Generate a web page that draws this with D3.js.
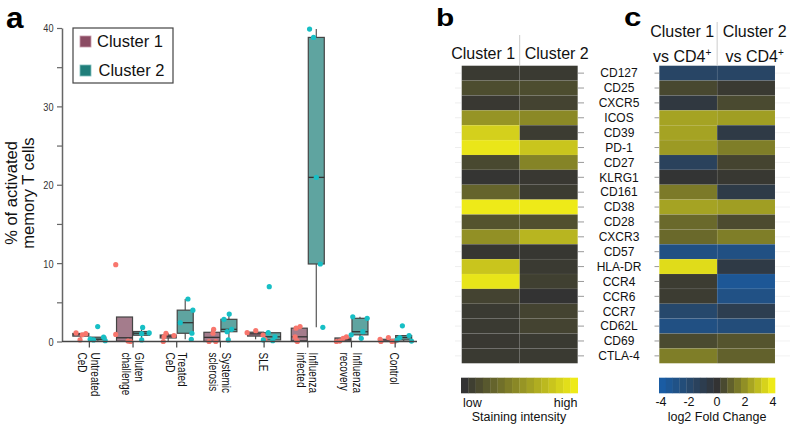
<!DOCTYPE html>
<html><head><meta charset="utf-8">
<script src="https://cdn.jsdelivr.net/npm/d3@7"></script>
<style>html,body{margin:0;padding:0;background:#fff;} svg{display:block;font-family:"Liberation Sans",Arial,sans-serif;}</style>
</head><body><svg id="chart" width="793" height="428"></svg>
<script>
// ---------- data ----------
const categories = [["Untreated","CeD"],["Gluten","challenge"],["Treated","CeD"],["Systemic","sclerosis"],["SLE"],["Influenza","infected"],["Influenza","recovery"],["Control"]];
const clusters = ["Cluster 1","Cluster 2"];
const cluster1Values = [
  [1.1,0.2,0.85,1.0],
  [9.8,0.9,0.05,0.0],
  [0.0,0.6,1.05,0.75],
  [1.55,1.05,0.0,0.0],
  [1.12,1.38,0.83,0.28],
  [1.7,1.9,0.6,0.1,0.0],
  [0.0,0.4,0.6,0.05],
  [0.28,0.0,0.5,0.0,0.05]];
const cluster1Jitter = [
  [-0.30,-0.05,0.09,0.31],
  [-0.55,-0.55,0.22,0.37],
  [-0.31,-0.26,-0.14,0.36],
  [0.11,0.07,-0.18,0.24],
  [-0.53,0.01,0.47,0.58],
  [-0.20,0.05,-0.26,-0.16,-0.12],
  [-0.41,0.01,0.22,-0.20],
  [-0.41,-0.36,0.11,0.33,0.53]];
const cluster2Values = [
  [0.3,0.2,1.9,0.55,0.1],
  [1.8,1.0,1.1,0.2],
  [5.42,4.0,2.4,1.05,0.28],
  [3.5,2.83,1.55,1.25,0.2],
  [7.0,1.12,0.2,0.1,0.6],
  [39.86,38.8,20.94,9.89,1.81],
  [3.16,1.25,0.4,2.96,0.85],
  [2.0,0.5,0.75,0.05,0.2]];
const cluster2Jitter = [
  [-0.48,-0.27,-0.01,0.36,0.46],
  [0.07,0.01,0.48,0.01],
  [0.17,0.48,-0.31,0.42,0.38],
  [0.02,-0.31,0.17,-0.11,-0.04],
  [-0.21,-0.27,-0.58,0.01,0.15],
  [-0.42,-0.17,0.0,0.25,0.41],
  [-0.45,0.18,0.08,0.45,-0.55],
  [-0.08,-0.24,0.34,0.49,-0.41]];
const yTickValues = [0,5,10,15,20,25,30,35,40];
const yTickLabels = ["0","","10","","20","","30","","40"];

const markers = ["CD127","CD25","CXCR5","ICOS","CD39","PD-1","CD27","KLRG1","CD161","CD38","CD28","CXCR3","CD57","HLA-DR","CCR4","CCR6","CCR7","CD62L","CD69","CTLA-4"];
const stainCluster1 = [0.04,0.14,0.03,0.53,0.86,0.98,0.12,0.01,0.27,1.0,0.18,0.51,0.02,0.80,0.97,0.09,0.04,0.04,0.03,0.04];
const stainCluster2 = [0.04,0.14,0.09,0.47,0.05,0.80,0.44,0.03,0.05,1.0,0.16,0.71,0.02,0.04,0.07,0.00,0.09,0.09,0.04,0.04];
const fcCluster1 = [-1.8,0.45,-0.45,2.44,2.44,2.25,-1.46,-0.05,1.56,2.44,1.18,1.18,-2.86,3.7,0.2,0.2,-2.04,-2.86,0.5,1.63];
const fcCluster2 = [-1.8,0.15,0.5,2.33,-0.68,1.63,0.38,0.1,-0.75,2.33,0.53,1.63,-2.86,-0.68,-3.54,-2.93,-1.04,-2.54,0.73,1.0];
const fcTicks = [-4,-2,0,2,4];

// ---------- drawing ----------
const svg = d3.select("#chart");
svg.append("rect").attr("width",793).attr("height",428).attr("fill","#fff");

// panel letters
svg.append("text").attr("transform","translate(6,27.5) scale(1.05,1)").attr("font-size",30).attr("font-weight","bold").text("a");
svg.append("text").attr("transform","translate(436,26) scale(1.3,1)").attr("font-size",23).attr("font-weight","bold").text("b");
svg.append("text").attr("transform","translate(624,26) scale(1.25,1)").attr("font-size",25).attr("font-weight","bold").text("c");

// ===== Panel a =====
const y = d3.scaleLinear().domain([0,40]).range([341.5,28]);
const x = d3.scaleBand().domain(d3.range(categories.length)).range([67.5,417]);
const sub = d3.scaleBand().domain(clusters).range([-16.5,16.5]).paddingInner(0.06);
const boxFill = {"Cluster 1":"#a47c8c","Cluster 2":"#5fa4a0"};
const ptFill = {"Cluster 1":"#f8766d","Cluster 2":"#17bfc5"};
const legFill = {"Cluster 1":"#8b4b63","Cluster 2":"#1f7e7a"};

// y axis
const ax = svg.append("g").attr("transform","translate(62,0)")
  .call(d3.axisLeft(y).tickValues(yTickValues).tickSize(5).tickSizeOuter(0).tickFormat((d,i)=>yTickLabels[i]));
ax.select(".domain").attr("stroke","#666").attr("stroke-width",1.5);
ax.selectAll(".tick line").attr("stroke","#666").attr("stroke-width",1.2);
ax.selectAll(".tick text").attr("x",0).attr("dy","0.34em").attr("font-size",11.5).attr("fill","#333")
  .attr("font-family","'Liberation Sans',Arial,sans-serif")
  .attr("transform","translate(-8.5,0) scale(0.8,1)");

// y title
const yt = svg.append("text").attr("transform","translate(17,193) rotate(-90)").attr("text-anchor","middle").attr("font-size",16.5).attr("fill","#111");
yt.append("tspan").attr("x",0).attr("y",0).text("% of activated");
yt.append("tspan").attr("x",0).attr("y",17).text("memory T cells");

// boxes + points
const allData = [];
categories.forEach((c,i)=>{
  [[cluster1Values,cluster1Jitter,"Cluster 1"],[cluster2Values,cluster2Jitter,"Cluster 2"]].forEach(([vals,jit,cl])=>{
    allData.push({i,cl,vals:vals[i],jit:jit[i]});
  });
});
const gBox = svg.append("g");
allData.forEach(d=>{
  const s = d.vals.slice().sort(d3.ascending);
  const q1 = d3.quantile(s,0.25), med = d3.quantile(s,0.5), q3 = d3.quantile(s,0.75);
  const iqr = q3-q1;
  const lo = d3.min(s.filter(v=>v>=q1-1.5*iqr)), hi = d3.max(s.filter(v=>v<=q3+1.5*iqr));
  const x0 = x(d.i)+x.bandwidth()/2+sub(d.cl);
  const cx = x0+sub.bandwidth()/2;
  gBox.append("line").attr("x1",cx).attr("x2",cx).attr("y1",y(hi)).attr("y2",y(q3)).attr("stroke","#555").attr("stroke-width",1.2);
  gBox.append("line").attr("x1",cx).attr("x2",cx).attr("y1",y(q1)).attr("y2",y(lo)).attr("stroke","#555").attr("stroke-width",1.2);
  gBox.append("rect").attr("x",x0).attr("width",sub.bandwidth()).attr("y",y(q3)).attr("height",Math.max(0.8,y(q1)-y(q3)))
    .attr("fill",boxFill[d.cl]).attr("stroke","#444").attr("stroke-width",1.2);
  gBox.append("line").attr("x1",x0).attr("x2",x0+sub.bandwidth()).attr("y1",y(med)).attr("y2",y(med)).attr("stroke","#333").attr("stroke-width",1.3);
});
const gPts = svg.append("g");
allData.forEach(d=>{
  const cx = x(d.i)+x.bandwidth()/2+sub(d.cl)+sub.bandwidth()/2;
  d.vals.forEach((v,k)=>{
    gPts.append("circle").attr("cx",cx+d.jit[k]*sub.bandwidth()).attr("cy",y(v)).attr("r",2.6).attr("fill",ptFill[d.cl]);
  });
});

// x axis
svg.append("line").attr("x1",62).attr("x2",417).attr("y1",y(0)).attr("y2",y(0)).attr("stroke","#444").attr("stroke-width",1.5);
categories.forEach((c,i)=>{
  const t = x(i)+x.bandwidth()/2;
  svg.append("line").attr("x1",t).attr("x2",t).attr("y1",y(0)).attr("y2",y(0)+6).attr("stroke","#444").attr("stroke-width",1.2);
  const off = c.length===1 ? -4.7 : 1.5;
  const tx = svg.append("text").attr("transform",`translate(${t+off},352.5) rotate(90) scale(0.78,1)`)
    .attr("font-size",12.8).attr("fill","#111");
  c.forEach((line,k)=>{
    tx.append("tspan").attr("x",0).attr("y",12.5*k).text(line);
  });
});

// legend
svg.append("rect").attr("x",73).attr("y",28).attr("width",100).attr("height",55).attr("fill","#fff").attr("stroke","#444").attr("stroke-width",1.2);
clusters.forEach((cl,k)=>{
  svg.append("rect").attr("x",80).attr("y",36+k*29).attr("width",11).attr("height",11).attr("fill",legFill[cl]).attr("stroke",k? "#7fbfbc":"#c79aaa").attr("stroke-width",0.8);
  svg.append("text").attr("x",97+k*1.5).attr("y",47+k*29).attr("font-size",16.5).attr("fill","#111").text(cl);
});

// ===== Heatmaps =====
const rowBand = d3.scaleBand().domain(markers).range([65.7,363.3]);
const stainColor = d3.scaleLinear().domain([0,1]).range(["#333333","#eeea18"]);
const fcColor = d3.scaleLinear().domain([-4,0,4]).range(["#1a5ca3","#333333","#eeea18"]);

function heat(xRange, v1, v2, colorFn){
  const cb = d3.scaleBand().domain(clusters).range(xRange);
  const g = svg.append("g");
  markers.forEach((m,r)=>{
    [v1,v2].forEach((arr,c)=>{
      g.append("rect").attr("x",cb(clusters[c])).attr("y",rowBand(m)).attr("width",cb.bandwidth()).attr("height",rowBand.bandwidth())
        .attr("fill",colorFn(arr[r])).attr("stroke","rgba(255,255,255,0.07)").attr("stroke-width",0.6);
    });
  });
  return cb;
}
const cbB = heat([461.7,577.7], stainCluster1, stainCluster2, stainColor);
const cbC = heat([659.3,775], fcCluster1, fcCluster2, fcColor);

// ticks
markers.forEach(m=>{
  const yy = rowBand(m)+rowBand.bandwidth()/2;
  svg.append("line").attr("x1",578).attr("x2",584).attr("y1",yy).attr("y2",yy).attr("stroke","#999").attr("stroke-width",1);
  svg.append("line").attr("x1",455).attr("x2",461).attr("y1",yy).attr("y2",yy).attr("stroke","#eee").attr("stroke-width",1);
  svg.append("line").attr("x1",654.5).attr("x2",659).attr("y1",yy).attr("y2",yy).attr("stroke","#999").attr("stroke-width",1);
  svg.append("line").attr("x1",775).attr("x2",790).attr("y1",yy).attr("y2",yy).attr("stroke","#f2f2f2").attr("stroke-width",1);
  svg.append("text").attr("x",619).attr("y",yy+4.3).attr("text-anchor","middle").attr("font-size",12).attr("fill","#111").text(m);
});

// headers b
const divB = cbB.range()[0]+cbB.bandwidth();
svg.append("line").attr("x1",divB).attr("x2",divB).attr("y1",35).attr("y2",65).attr("stroke","#ccc").attr("stroke-width",1);
svg.append("text").attr("x",divB-4.5).attr("y",59).attr("text-anchor","end").attr("font-size",16).attr("fill","#111").text(clusters[0]);
svg.append("text").attr("x",divB+5).attr("y",59).attr("text-anchor","start").attr("font-size",16).attr("fill","#111").text(clusters[1]);

// headers c
const divC = cbC.range()[0]+cbC.bandwidth();
svg.append("line").attr("x1",divC).attr("x2",divC).attr("y1",22).attr("y2",65).attr("stroke","#ccc").attr("stroke-width",1);
[[divC-35,clusters[0]],[divC+37.5,clusters[1]]].forEach(([cx,lab])=>{
  svg.append("text").attr("x",cx).attr("y",36.7).attr("text-anchor","middle").attr("font-size",16).attr("fill","#111").text(lab);
  const t = svg.append("text").attr("x",cx).attr("y",61.7).attr("text-anchor","middle").attr("font-size",16).attr("fill","#111");
  t.append("tspan").text("vs CD4");
  t.append("tspan").attr("font-size",10).attr("dy",-6).text("+");
});

// colorbar b
const nB = 16;
const cbx = d3.scaleBand().domain(d3.range(nB)).range([461,577.7]);
d3.range(nB).forEach(i=>{
  svg.append("rect").attr("x",cbx(i)).attr("y",377.7).attr("width",cbx.bandwidth()+0.3).attr("height",15.6).attr("fill",stainColor(i/(nB-1)));
});
svg.append("text").attr("x",463).attr("y",406.7).attr("font-size",12.5).attr("fill","#111").text("low");
svg.append("text").attr("x",577.5).attr("y",406.7).attr("text-anchor","end").attr("font-size",12.5).attr("fill","#111").text("high");
svg.append("text").attr("x",519).attr("y",421).attr("text-anchor","middle").attr("font-size",12.5).attr("fill","#111").text("Staining intensity");

// colorbar c
const nC = 17;
const ccx = d3.scaleBand().domain(d3.range(nC)).range([659,775]);
d3.range(nC).forEach(i=>{
  svg.append("rect").attr("x",ccx(i)).attr("y",377.7).attr("width",ccx.bandwidth()+0.3).attr("height",15.6).attr("fill",fcColor(-4+i*0.5));
});
const fcx = d3.scaleLinear().domain([-4,4]).range([661,773]);
fcTicks.forEach(v=>{
  svg.append("text").attr("x",fcx(v)).attr("y",406).attr("text-anchor","middle").attr("font-size",12.5).attr("fill","#111").text(v<0? "-"+Math.abs(v): v);
});
svg.append("text").attr("x",717).attr("y",421).attr("text-anchor","middle").attr("font-size",12.5).attr("fill","#111").text("log2 Fold Change");
</script></body></html>
